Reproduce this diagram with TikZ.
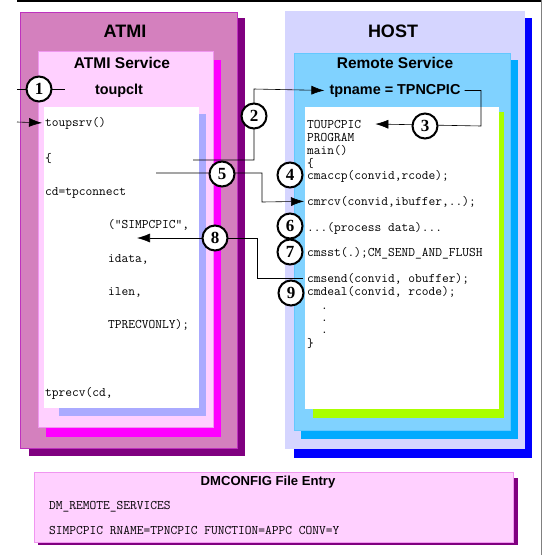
\documentclass[tikz,border=0pt]{standalone}
\usepackage{fontspec}
\setmainfont{Liberation Sans}
\newfontfamily\numfont{Liberation Serif}
\usepackage{tikz}
\usetikzlibrary{arrows.meta,positioning,calc}
\definecolor{atmipink}{RGB}{212,128,190}
\definecolor{atmiedge}{RGB}{190,50,190}
\definecolor{atmidark}{RGB}{128,0,128}
\definecolor{svcpink}{RGB}{255,208,255}
\definecolor{svcedge}{RGB}{240,150,240}
\definecolor{svcdark}{RGB}{255,0,255}
\definecolor{lavshade}{RGB}{170,170,255}
\definecolor{hostlav}{RGB}{213,213,255}
\definecolor{hostdark}{RGB}{0,0,255}
\definecolor{remblue}{RGB}{128,210,255}
\definecolor{remedge}{RGB}{100,200,255}
\definecolor{remdark}{RGB}{0,170,255}
\definecolor{limeshade}{RGB}{170,255,0}

\begin{document}
\begin{tikzpicture}[
  x=1pt, y=-1pt,
  every node/.style={inner sep=0pt},
  title/.style={font=\bfseries\fontsize{18}{20}\selectfont, anchor=base},
  subtitle/.style={font=\bfseries\fontsize{15.5}{18}\selectfont, anchor=base},
  label/.style={font=\bfseries\fontsize{14.4}{16}\selectfont, anchor=base},
  code/.style={font=\ttfamily\fontsize{13.1}{13}\selectfont, anchor=base west},
  num/.style={circle, draw, line width=2pt, fill=white, minimum size=25pt,
    inner sep=0pt, font=\numfont\bfseries\fontsize{17}{17}\selectfont},
  wire/.style={line width=0.6pt},
  arr/.style={wire, -{Latex[length=13pt,width=9pt]}}
]
\useasboundingbox (0,0) rectangle (543,555);
\fill[white] (0,0) rectangle (543,555);
\draw[line width=1.6pt] (17,0.8) -- (541,0.8);
\draw[gray, line width=0.8pt] (541,0) -- (541,555);

% ATMI side
\fill[atmidark] (29,18) rectangle (245,456);
\filldraw[fill=atmipink, draw=atmiedge, line width=0.8pt] (20,12) rectangle (237,448);
\fill[svcdark] (46,60) rectangle (221,437);
\filldraw[fill=svcpink, draw=svcedge, line width=0.6pt] (38,51) rectangle (213,427);
\fill[lavshade] (59,114) rectangle (206,416);
\fill[white] (44,107) rectangle (199,408);

% HOST side
\fill[hostdark] (294,18) rectangle (532,458);
\fill[hostlav] (285,11) rectangle (525,449);
\fill[remdark] (301,60) rectangle (518,439);
\filldraw[fill=remblue, draw=remedge, line width=0.6pt] (294,53) rectangle (510,430);
\fill[limeshade] (313,112) rectangle (504,418);
\fill[white] (305,107) rectangle (499,409);

% DMCONFIG entry
\fill[atmidark] (38,478) rectangle (518,545);
\filldraw[fill=svcpink, draw=svcedge, line width=0.6pt] (34,472) rectangle (513,542);

\node[title] (atmi) at (125,37.5) {ATMI};
\node[subtitle] (atmisvc) at (122,68.5) {ATMI Service};
\node[label] (toupclt) at (119,94) {toupclt};
\node[title] (host) at (393,37.5) {HOST};
\node[subtitle] (remsvc) at (395,68.5) {Remote Service};
\node[label] (tpname) at (395,94) {tpname = TPNCPIC};

% client code
\node[code] (toupsrv) at (45,126) {toupsrv()};
\node[code] (lbrace) at (45,162) {\{};
\node[code] (tpconn) at (45,195) {cd=tpconnect};
\node[code] (simp) at (108,228) {("SIMPCPIC",};
\node[code] (idata) at (108,262) {idata,};
\node[code] (ilen) at (108,295) {ilen,};
\node[code] (recvonly) at (108,328) {TPRECVONLY);};
\node[code] (tprecv) at (45,396) {tprecv(cd,};

% server code
\node[code] (toupcpic) at (307,128) {TOUPCPIC};
\node[code] (program) at (307,141) {PROGRAM};
\node[code] (main) at (307,154) {main()};
\node[code] (sbrace) at (307,167) {\{};
\node[code] (cmaccp) at (307,179) {cmaccp(convid,rcode);};
\node[code] (cmrcv) at (307,205) {cmrcv(convid,ibuffer,..);};
\node[code] (process) at (307,231) {...(process data)...};
\node[code] (cmsst) at (307,256) {cmsst(.);CM\_SEND\_AND\_FLUSH};
\node[code] (cmsend) at (307,282) {cmsend(convid, obuffer);};
\node[code] (cmdeal) at (307,295) {cmdeal(convid, rcode);};
\node[code] (dota) at (321,309) {.};
\node[code] (dotb) at (321,321) {.};
\node[code] (dotc) at (321,333) {.};
\node[code] (ebrace) at (307,347) {\}};

\node[font=\bfseries\fontsize{13.1}{15}\selectfont, anchor=base] (dmtitle) at (268,485) {DMCONFIG File Entry};
\node[code] (dmrem) at (49,509) {DM\_REMOTE\_SERVICES};
\node[code] (dmsimp) at (49,534) {SIMPCPIC RNAME=TPNCPIC FUNCTION=APPC CONV=Y};

% connectors
\coordinate (c1w) at (17,89);
\coordinate (c1e) at (65,89);
\coordinate (inw) at (17,122);
\coordinate (c2s) at (193,160);
\coordinate (c2b) at (254,89);
\coordinate (c3b) at (481,126);
\coordinate (c5s) at (156,173);
\coordinate (c5b) at (262,202);
\coordinate (c8b) at (257,238);
\coordinate (c8e) at (137,238);

\draw[wire] (c1w) -- (c1e);
\draw[arr] (inw) -- ([xshift=-3pt]toupsrv.west);
\draw[arr] (c2s) -| (c2b) -- ([xshift=-5pt]tpname.west);
\draw[arr] ([xshift=4pt]tpname.east) -| (c3b) -- ([xshift=14pt]toupcpic.east);
\draw[arr] (c5s) -| (c5b) -- ([xshift=-3pt]cmrcv.west);
\draw[arr] ([xshift=-4pt]cmsend.west) -| (c8b) -- (c8e);

% step numbers
\node[num] (n1) at (39,89) {1};
\node[num] (n2) at (254,116) {2};
\node[num] (n3) at (425,126) {3};
\node[num] (n4) at (290,175) {4};
\node[num] (n5) at (222,174) {5};
\node[num] (n6) at (290,226) {6};
\node[num] (n7) at (290,252) {7};
\node[num] (n8) at (215,238) {8};
\node[num] (n9) at (291,293) {9};
\end{tikzpicture}
\end{document}
